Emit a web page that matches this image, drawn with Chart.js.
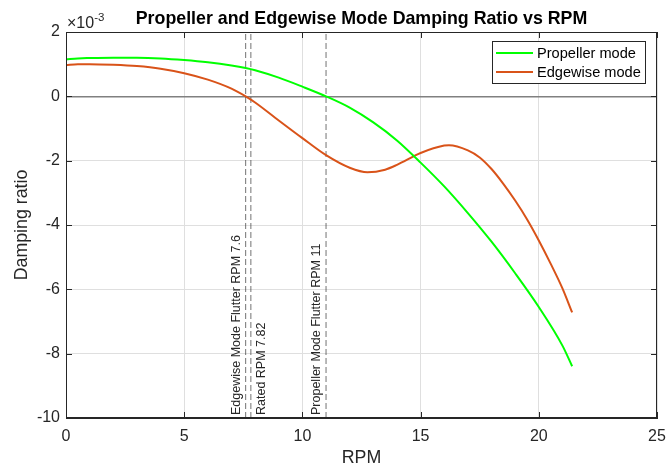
<!DOCTYPE html>
<html><head><meta charset="utf-8">
<script src="https://cdn.jsdelivr.net/npm/chart.js@4.4.1/dist/chart.umd.min.js"></script>
<style>html,body{margin:0;padding:0;background:#fff}#wrap{width:668px;height:472px}</style>
</head><body><div id="wrap"><canvas id="c" width="668" height="472"></canvas></div>
<script>
// Damping ratio values in units of 1e-3
const propRpm = [0, 0.5, 1, 2, 3, 4, 5, 6, 7, 7.6, 8, 9, 10, 11, 12, 13, 14, 15, 16, 17, 18, 19, 20, 21, 21.41];
const propDamping = [1.15, 1.18, 1.19, 1.2, 1.2, 1.18, 1.13, 1.06, 0.96, 0.88, 0.81, 0.58, 0.3, 0.0, -0.35, -0.81, -1.37, -2.06, -2.8, -3.63, -4.52, -5.5, -6.55, -7.75, -8.39];
const edgeRpm = [0, 0.5, 1, 2, 3, 4, 5, 6, 7, 7.6, 8, 9, 10, 11, 12, 12.75, 13.5, 14, 14.72, 15, 16, 16.2, 17, 17.5, 18, 18.5, 19, 19.5, 20, 20.5, 21, 21.41];
const edgeDamping = [0.97, 1.0, 1.0, 0.98, 0.94, 0.86, 0.72, 0.52, 0.24, 0.0, -0.19, -0.75, -1.3, -1.83, -2.22, -2.36, -2.28, -2.13, -1.86, -1.76, -1.53, -1.52, -1.68, -1.9, -2.26, -2.72, -3.24, -3.82, -4.48, -5.2, -5.97, -6.72];
const flutterRpm = [7.6, 7.82, 11];
const flutterLabels = ['Edgewise Mode Flutter RPM 7.6', 'Rated RPM 7.82', 'Propeller Mode Flutter RPM 11'];
const flutterLabelSide = ['left', 'right', 'left'];
const seriesNames = ['Propeller mode', 'Edgewise mode'];
const xRange = [0, 25];
const yRange = [-10, 2];
const titleText = 'Propeller and Edgewise Mode Damping Ratio vs RPM';

const FONT = '"Liberation Sans", Arial, Helvetica, sans-serif';
const AX = '#262626';
const colors = ['#00ff00', '#D95319'];

const toXY = (xs, ys) => xs.map((x, i) => ({x: x, y: ys[i]}));

const datasets = [
  {label: seriesNames[0], data: toXY(propRpm, propDamping), borderColor: colors[0], borderWidth: 2,
   pointRadius: 0, cubicInterpolationMode: 'monotone', fill: false, order: 0},
  {label: seriesNames[1], data: toXY(edgeRpm, edgeDamping), borderColor: colors[1], borderWidth: 2,
   pointRadius: 0, cubicInterpolationMode: 'monotone', fill: false, order: 0}
];
flutterRpm.forEach((v, i) => {
  datasets.push({label: flutterLabels[i], data: [{x: v, y: yRange[0]}, {x: v, y: yRange[1]}],
    borderColor: 'rgba(38,38,38,0.65)', borderWidth: 1, borderDash: [6, 3], pointRadius: 0,
    fill: false, order: 1});
});

const decor = {
  id: 'decor',
  afterDraw(chart) {
    const ctx = chart.ctx, a = chart.chartArea, xs = chart.scales.x, ys = chart.scales.y;
    ctx.save();
    ctx.strokeStyle = AX; ctx.lineWidth = 1;
    ctx.strokeRect(a.left + 0.5, a.top + 0.5, a.right - a.left - 1, a.bottom - a.top - 1);
    ctx.beginPath();
    xs.ticks.forEach(t => {
      const p = Math.round(xs.getPixelForValue(t.value)) + 0.5;
      ctx.moveTo(p, a.bottom); ctx.lineTo(p, a.bottom - 6);
      ctx.moveTo(p, a.top); ctx.lineTo(p, a.top + 6);
    });
    ys.ticks.forEach(t => {
      const p = Math.round(ys.getPixelForValue(t.value)) + 0.5;
      ctx.moveTo(a.left, p); ctx.lineTo(a.left + 6, p);
      ctx.moveTo(a.right, p); ctx.lineTo(a.right - 6, p);
    });
    ctx.stroke();
    // title
    ctx.fillStyle = '#000';
    ctx.font = 'bold 17.8px ' + FONT;
    ctx.textAlign = 'center'; ctx.textBaseline = 'alphabetic';
    ctx.fillText(titleText, (a.left + a.right) / 2, 24);
    // exponent
    ctx.fillStyle = AX;
    ctx.textAlign = 'left';
    ctx.font = '16px ' + FONT;
    ctx.fillText('\u00d710', a.left + 1, 28);
    const w = ctx.measureText('\u00d710').width;
    ctx.font = '11.5px ' + FONT;
    ctx.fillText('-3', a.left + 1 + w, 21);
    // xline labels
    ctx.font = '12.5px ' + FONT;
    ctx.fillStyle = AX;
    flutterRpm.forEach((v, i) => {
      const p = xs.getPixelForValue(v);
      ctx.save();
      if (flutterLabelSide[i] === 'left') {
        ctx.translate(p - 3, a.bottom - 3);
        ctx.textBaseline = 'bottom';
      } else {
        ctx.translate(p + 4, a.bottom - 3);
        ctx.textBaseline = 'top';
      }
      ctx.rotate(-Math.PI / 2);
      ctx.textAlign = 'left';
      ctx.fillText(flutterLabels[i], 0, 0);
      ctx.restore();
    });
    // legend
    const lx = 492.5, ly = 41.5, lw = 153, lh = 42;
    ctx.fillStyle = '#fff';
    ctx.fillRect(lx, ly, lw, lh);
    ctx.strokeStyle = AX; ctx.lineWidth = 1;
    ctx.strokeRect(lx, ly, lw, lh);
    ctx.font = '14.6px ' + FONT;
    ctx.textBaseline = 'middle'; ctx.textAlign = 'left';
    [53, 72].forEach((yy, i) => {
      ctx.strokeStyle = colors[i]; ctx.lineWidth = 2;
      ctx.beginPath(); ctx.moveTo(496, yy); ctx.lineTo(533, yy); ctx.stroke();
      ctx.fillStyle = '#000';
      ctx.fillText(seriesNames[i], 537, yy + 0.5);
    });
    ctx.restore();
  }
};

new Chart(document.getElementById('c'), {
  type: 'line',
  data: {datasets: datasets},
  options: {
    responsive: false,
    animation: false,
    devicePixelRatio: 1,
    layout: {padding: {top: 32, right: 11, left: 0, bottom: 0}},
    plugins: {legend: {display: false}, tooltip: {enabled: false}, title: {display: false}},
    scales: {
      x: {
        type: 'linear', min: xRange[0], max: xRange[1],
        ticks: {stepSize: 5, autoSkip: false, maxRotation: 0, padding: 9, color: AX, font: {family: FONT, size: 16}},
        grid: {color: '#dfdfdf', lineWidth: 1, drawTicks: false},
        border: {display: true, color: AX, width: 1},
        title: {display: true, text: 'RPM', color: AX, font: {family: FONT, size: 17.8}, padding: {top: 0, bottom: 3}},
        afterFit(s) { s.height = 54; s.paddingLeft = 0; s.paddingRight = 0; }
      },
      y: {
        type: 'linear', min: yRange[0], max: yRange[1],
        ticks: {stepSize: 2, autoSkip: false, padding: 6, color: AX, font: {family: FONT, size: 16}},
        grid: {
          color: c => (c.tick && c.tick.value === 0) ? '#808080' : '#dfdfdf',
          lineWidth: c => (c.tick && c.tick.value === 0) ? 1.5 : 1,
          drawTicks: false
        },
        border: {display: true, color: AX, width: 1},
        title: {display: true, text: 'Damping ratio', color: AX, font: {family: FONT, size: 17.8}, padding: {top: 11, bottom: 0}},
        afterFit(s) { s.width = 66; s.paddingTop = 0; s.paddingBottom = 0; }
      }
    }
  },
  plugins: [decor]
});
</script>
</body></html>
